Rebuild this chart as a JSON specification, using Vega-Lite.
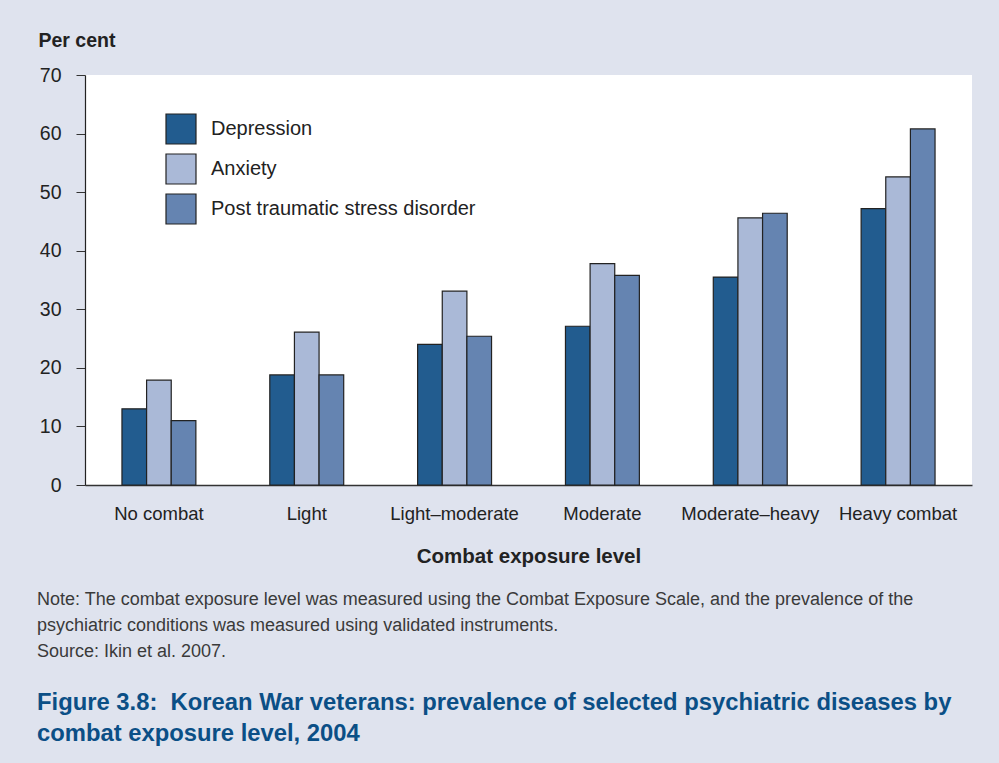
{
  "$schema": "https://vega.github.io/schema/vega-lite/v6.json",
  "width": 887,
  "height": 410,
  "autosize": {"type": "none"},
  "padding": {"left": 85, "top": 75, "right": 27, "bottom": 278},
  "background": "#dfe3ee",
  "config": {
    "font": "Liberation Sans",
    "view": {"fill": "white", "stroke": null},
    "axis": {"labelFont": "Liberation Sans", "titleFont": "Liberation Sans"}
  },
  "title": {
    "text": ["Note: The combat exposure level was measured using the Combat Exposure Scale, and the prevalence of the", "psychiatric conditions was measured using validated instruments.", "Source: Ikin et al. 2007."],
    "subtitle": ["Figure 3.8:\u00a0 Korean War veterans: prevalence of selected psychiatric diseases by", "combat exposure level, 2004"],
    "orient": "bottom",
    "anchor": "start",
    "frame": "group",
    "dx": -48,
    "offset": 24,
    "font": "Liberation Sans",
    "fontSize": 18,
    "fontWeight": "normal",
    "color": "#3a3a3a",
    "lineHeight": 26,
    "subtitleFont": "Liberation Sans",
    "subtitleFontSize": 23.8,
    "subtitleFontWeight": "bold",
    "subtitleColor": "#0b4f86",
    "subtitleLineHeight": 31,
    "subtitlePadding": 30
  },
  "data": {
    "values": [
      {"level": "No combat", "condition": "Depression", "value": 13.0},
      {"level": "No combat", "condition": "Anxiety", "value": 17.9},
      {"level": "No combat", "condition": "Post traumatic stress disorder", "value": 11.0},
      {"level": "Light", "condition": "Depression", "value": 18.8},
      {"level": "Light", "condition": "Anxiety", "value": 26.1},
      {"level": "Light", "condition": "Post traumatic stress disorder", "value": 18.8},
      {"level": "Light–moderate", "condition": "Depression", "value": 24.0},
      {"level": "Light–moderate", "condition": "Anxiety", "value": 33.1},
      {"level": "Light–moderate", "condition": "Post traumatic stress disorder", "value": 25.4},
      {"level": "Moderate", "condition": "Depression", "value": 27.1},
      {"level": "Moderate", "condition": "Anxiety", "value": 37.8},
      {"level": "Moderate", "condition": "Post traumatic stress disorder", "value": 35.8},
      {"level": "Moderate–heavy", "condition": "Depression", "value": 35.5},
      {"level": "Moderate–heavy", "condition": "Anxiety", "value": 45.6},
      {"level": "Moderate–heavy", "condition": "Post traumatic stress disorder", "value": 46.4},
      {"level": "Heavy combat", "condition": "Depression", "value": 47.2},
      {"level": "Heavy combat", "condition": "Anxiety", "value": 52.6},
      {"level": "Heavy combat", "condition": "Post traumatic stress disorder", "value": 60.8}
    ]
  },
  "mark": {"type": "bar", "stroke": "#222222", "strokeWidth": 1.2},
  "encoding": {
    "x": {
      "field": "level",
      "type": "nominal",
      "sort": ["No combat", "Light", "Light–moderate", "Moderate", "Moderate–heavy", "Heavy combat"],
      "scale": {"paddingInner": 0.5, "paddingOuter": 0.25},
      "axis": {
        "title": "Combat exposure level",
        "titleFontSize": 20.5,
        "titleFontWeight": "bold",
        "titleColor": "#222222",
        "titlePadding": 24,
        "labelAngle": 0,
        "labelFontSize": 18.5,
        "labelColor": "#222222",
        "labelPadding": 19,
        "ticks": false,
        "domainColor": "#333333",
        "domainWidth": 1.5
      }
    },
    "xOffset": {
      "field": "condition",
      "sort": ["Depression", "Anxiety", "Post traumatic stress disorder"]
    },
    "y": {
      "field": "value",
      "type": "quantitative",
      "scale": {"domain": [0, 70], "nice": false},
      "axis": {
        "title": "Per cent",
        "titleAngle": 0,
        "titleAlign": "left",
        "titleBaseline": "middle",
        "titleX": -47,
        "titleY": -35,
        "titleFontSize": 19.5,
        "titleFontWeight": "bold",
        "titleColor": "#222222",
        "values": [0, 10, 20, 30, 40, 50, 60, 70],
        "grid": false,
        "labelFontSize": 19.5,
        "labelColor": "#222222",
        "labelPadding": 15,
        "tickSize": 9,
        "tickColor": "#333333",
        "domainColor": "#222222",
        "domainWidth": 1.2
      }
    },
    "color": {
      "field": "condition",
      "type": "nominal",
      "sort": ["Depression", "Anxiety", "Post traumatic stress disorder"],
      "scale": {
        "domain": ["Depression", "Anxiety", "Post traumatic stress disorder"],
        "range": ["#225c8f", "#aab9d7", "#6584b1"]
      },
      "legend": {
        "title": null,
        "orient": "none",
        "legendX": 80,
        "legendY": 38,
        "padding": 0,
        "symbolType": "square",
        "symbolSize": 900,
        "symbolStrokeColor": "#222222",
        "symbolStrokeWidth": 1.2,
        "symbolOpacity": 1,
        "rowPadding": 4,
        "labelFontSize": 20,
        "labelLimit": 0,
        "labelColor": "#222222",
        "labelOffset": 14,
        "labelFont": "Liberation Sans"
      }
    }
  }
}
